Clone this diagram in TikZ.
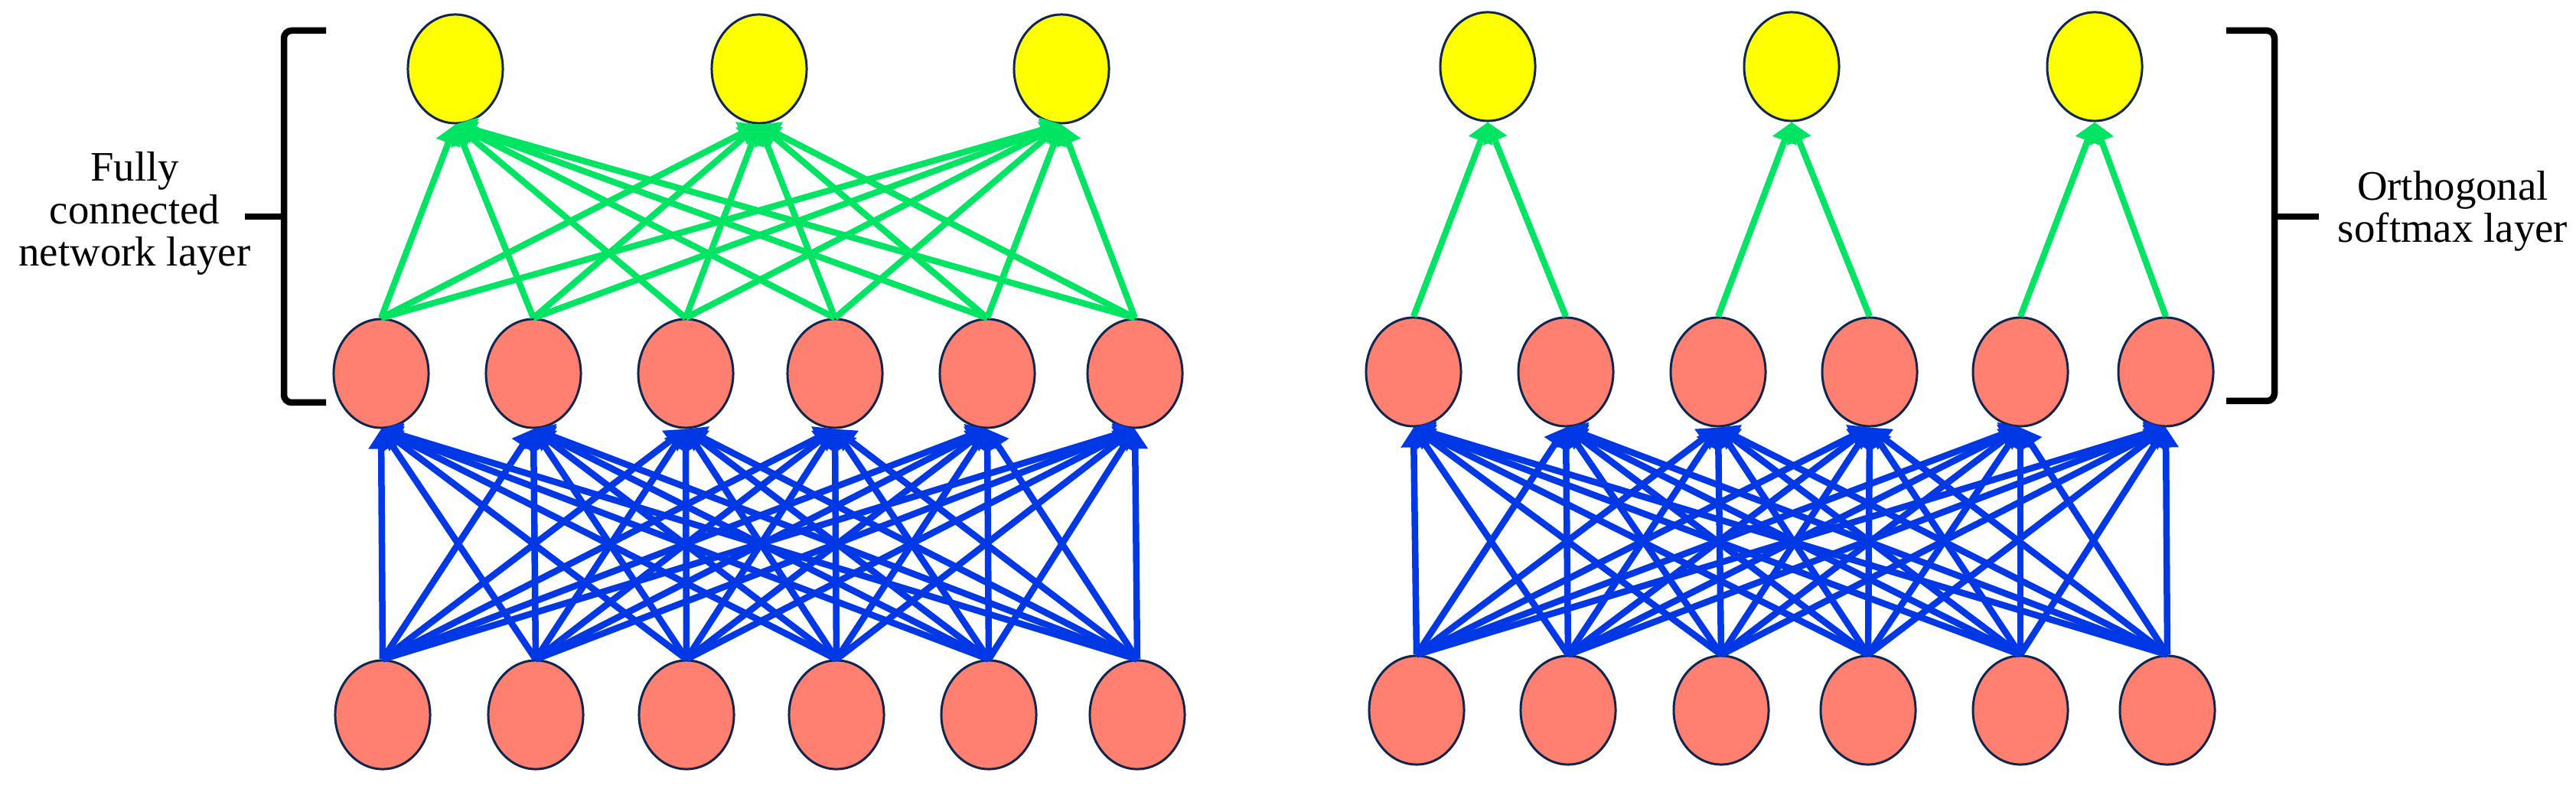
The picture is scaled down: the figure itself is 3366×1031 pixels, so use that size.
\documentclass[tikz,border=0pt]{standalone}
\usepackage{fontspec}
\setmainfont{Liberation Serif}
\usetikzlibrary{shapes.geometric,arrows.meta}
\definecolor{salmonc}{RGB}{255,128,112}
\definecolor{yel}{RGB}{255,255,0}
\definecolor{grn}{RGB}{0,228,100}
\definecolor{blu}{RGB}{0,56,230}
\definecolor{navy}{RGB}{16,38,76}
\begin{document}
\begin{tikzpicture}[x=0.01cm,y=-0.01cm,
  neuron/.style={ellipse,draw=navy,line width=0.85pt,minimum width=1.24cm,minimum height=1.42cm,inner sep=0pt},
  hid/.style={neuron,fill=salmonc},
  outn/.style={neuron,fill=yel},
  blueedge/.style={draw=blu,line width=0.085cm,-{Triangle[length=0.26cm,width=0.32cm]}},
  greenedge/.style={draw=grn,line width=0.082cm,-{Triangle[length=0.26cm,width=0.32cm]}},
  bracket/.style={draw=black,line width=0.085cm,rounded corners=0.1cm},
  lbl/.style={align=center,font=\fontsize{15.6}{15.8}\selectfont,inner sep=0pt}]
\useasboundingbox (0,0) rectangle (3366,1031);
% left panel
\foreach \x [count=\i] in {500,700,897,1093,1292,1486} \node[hid] (lb\i) at (\x,934) {};
\foreach \x [count=\i] in {498,697,896,1091,1290,1483} \node[hid] (lm\i) at (\x,488) {};
\foreach \x [count=\i] in {595,992,1387} \node[outn] (lt\i) at (\x,90) {};
% right panel
\foreach \x [count=\i] in {1851,2049,2249,2441,2640,2832} \node[hid] (rb\i) at (\x,928) {};
\foreach \x [count=\i] in {1847,2046,2245,2443,2640,2830} \node[hid] (rm\i) at (\x,486) {};
\foreach \x [count=\i] in {1944,2341,2737} \node[outn] (rt\i) at (\x,87) {};
% blue connections
\foreach \i in {1,...,6}{
  \foreach \j in {1,...,6}{
    \draw[blueedge] (lb\i.north) -- (lm\j.south);
    \draw[blueedge] (rb\i.north) -- (rm\j.south);
  }
}
% green connections
\foreach \i in {1,...,6}{
  \foreach \j in {1,2,3}{
    \draw[greenedge] (lm\i.north) -- (lt\j.south);
  }
}
\foreach \i/\j in {1/1,2/1,3/2,4/2,5/3,6/3}
  \draw[greenedge] (rm\i.north) -- (rt\j.south);
% brackets
\coordinate (lbt) at (426,40);
\coordinate (lbb) at (426,526);
\coordinate (lbm) at (371,283);
\coordinate (lbe) at (320,283);
\draw[bracket] (lbt) -- (371,40) -- (371,526) -- (lbb);
\draw[bracket] (lbm) -- (lbe);
\node[lbl] (ltext) at (176,279) {Fully\\connected\\network layer};
\coordinate (rbt) at (2909,40);
\coordinate (rbb) at (2909,524);
\coordinate (rbm) at (2972,283);
\coordinate (rbe) at (3030,283);
\draw[bracket] (rbt) -- (2972,40) -- (2972,524) -- (rbb);
\draw[bracket] (rbm) -- (rbe);
\node[lbl] (rtext) at (3205,276) {Orthogonal\\softmax layer};
\end{tikzpicture}
\end{document}
